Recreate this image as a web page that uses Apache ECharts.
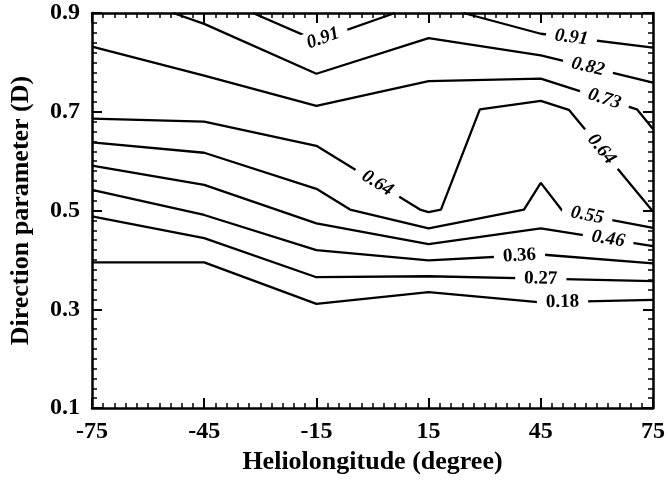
<!DOCTYPE html>
<html>
<head>
<meta charset="utf-8">
<script src="https://cdn.jsdelivr.net/npm/echarts@6/dist/echarts.min.js"></script>
<style>
  html, body { margin: 0; padding: 0; background: #fff; }
  #chart { width: 668px; height: 480px; }
</style>
</head>
<body>
<div id="chart"></div>
<script>
// contour lines, [heliolongitude, D]
const c018 = [[-75, 0.395], [-45, 0.395], [-15, 0.311], [15, 0.335], [45, 0.314], [75, 0.319]];
const c027 = [[-75, 0.488], [-45, 0.444], [-15, 0.365], [15, 0.367], [45, 0.362], [75, 0.357]];
const c036 = [[-75, 0.542], [-45, 0.491], [-15, 0.420], [15, 0.399], [45, 0.411], [75, 0.393]];
const c046 = [[-75, 0.591], [-45, 0.552], [-15, 0.474], [15, 0.432], [45, 0.464], [75, 0.428]];
const c055 = [[-75, 0.638], [-45, 0.617], [-15, 0.544], [-6, 0.502], [15, 0.464], [40.5, 0.502], [45, 0.556], [50.7, 0.500], [75, 0.465]];
const c064 = [[-75, 0.686], [-45, 0.680], [-15, 0.631], [12.7, 0.502], [15, 0.497], [18.3, 0.502], [28.7, 0.705], [45, 0.722], [52.5, 0.704], [75, 0.498]];
const c073 = [[-75, 0.832], [-45, 0.773], [-15, 0.712], [15, 0.762], [45, 0.767], [70.7, 0.705], [75, 0.665]];
const c082 = [[-53.3, 0.9], [-45, 0.878], [-15, 0.777], [15, 0.849], [45, 0.814], [75, 0.759]];
const c091a = [[-32, 0.9], [-15, 0.844], [6, 0.9]];
const c091b = [[24.3, 0.9], [45, 0.858], [75, 0.830]];

const contours = [c018, c027, c036, c046, c055, c064, c073, c082, c091a, c091b];

// contour labels: text, which line, where along x
const labelText = ['0.18', '0.27', '0.36', '0.46', '0.55', '0.64', '0.64', '0.73', '0.82', '0.91', '0.91'];
const labelOn = [0, 1, 2, 3, 4, 5, 5, 6, 7, 8, 9];
const labelX = [50.8, 45.0, 39.3, 63.0, 57.4, 1.3, 61.2, 62.0, 57.6, -13.2, 53.2];

const xTicks = [-75, 75, 30];
const yTicks = [0.1, 0.9, 0.2];

const font = 'Liberation Serif';

let chart = echarts.init(document.getElementById('chart'));

function axisX(pos) {
  return {
    type: 'value',
    position: pos,
    min: xTicks[0], max: xTicks[1], interval: xTicks[2],
    name: pos == 'bottom' ? 'Heliolongitude (degree)' : '',
    nameLocation: 'middle',
    nameGap: 40,
    nameTextStyle: { fontFamily: font, fontWeight: 'bold', fontSize: 26, color: '#000' },
    axisLine: { show: true, onZero: false, lineStyle: { color: '#000', width: 2.5 } },
    axisTick: { show: true, inside: true, length: 10, lineStyle: { color: '#000', width: 2 } },
    minorTick: { show: true, splitNumber: 10, length: 5, lineStyle: { color: '#000', width: 1.5 } },
    axisLabel: {
      show: pos == 'bottom', margin: 12,
      fontFamily: font, fontWeight: 'bold', fontSize: 24, color: '#000',
      formatter: (v) => String(Math.round(v))
    },
    splitLine: { show: false }
  };
}

function axisY(pos) {
  return {
    type: 'value',
    position: pos,
    min: yTicks[0], max: yTicks[1], interval: yTicks[2],
    name: pos == 'left' ? 'Direction parameter (D)' : '',
    nameLocation: 'middle',
    nameGap: 58,
    nameTextStyle: { fontFamily: font, fontWeight: 'bold', fontSize: 26, color: '#000' },
    axisLine: { show: true, onZero: false, lineStyle: { color: '#000', width: 2.5 } },
    axisTick: { show: true, inside: true, length: 10, lineStyle: { color: '#000', width: 2 } },
    minorTick: { show: true, splitNumber: 10, length: 5, lineStyle: { color: '#000', width: 1.5 } },
    axisLabel: {
      show: pos == 'left', margin: 12,
      fontFamily: font, fontWeight: 'bold', fontSize: 24, color: '#000',
      formatter: (v) => v.toFixed(1)
    },
    splitLine: { show: false }
  };
}

let option = {
  animation: false,
  backgroundColor: '#fff',
  grid: { left: 92, right: 15, top: 13, bottom: 69, containLabel: false },
  xAxis: [axisX('bottom'), axisX('top')],
  yAxis: [axisY('left'), axisY('right')],
  series: contours.map((c) => ({
    type: 'line',
    data: c,
    symbol: 'none',
    clip: true,
    lineStyle: { color: '#000', width: 2.3 },
    z: 2
  }))
};
chart.setOption(option);

// find y on a line at x, plus the segment it sits on
function onLine(line, x) {
  for (let i = 0; i < line.length - 1; i++) {
    let a = line[i], b = line[i + 1];
    if (x >= a[0] && x <= b[0]) {
      let t = (x - a[0]) / (b[0] - a[0]);
      return { y: a[1] + t * (b[1] - a[1]), a: a, b: b };
    }
  }
  return { y: line[0][1], a: line[0], b: line[1] };
}

let labelData = labelText.map((txt, i) => {
  let r = onLine(contours[labelOn[i]], labelX[i]);
  let pa = chart.convertToPixel({ seriesIndex: 0 }, r.a);
  let pb = chart.convertToPixel({ seriesIndex: 0 }, r.b);
  let ang = -Math.atan2(pb[1] - pa[1], pb[0] - pa[0]) * 180 / Math.PI;
  return {
    value: [labelX[i], r.y],
    label: {
      show: true,
      formatter: txt,
      rotate: ang,
      fontStyle: Math.abs(ang) > 4 ? 'italic' : 'normal'
    }
  };
});

chart.setOption({
  series: option.series.concat([{
    type: 'scatter',
    symbolSize: 0,
    z: 10,
    itemStyle: { opacity: 1 },
    data: labelData,
    label: {
      show: true,
      position: 'inside',
      fontFamily: font,
      fontWeight: 'bold',
      fontSize: 19,
      color: '#000',
      opacity: 1,
      backgroundColor: '#fff',
      padding: [1, 9]
    },
    emphasis: { disabled: true }
  }])
});
</script>
</body>
</html>
